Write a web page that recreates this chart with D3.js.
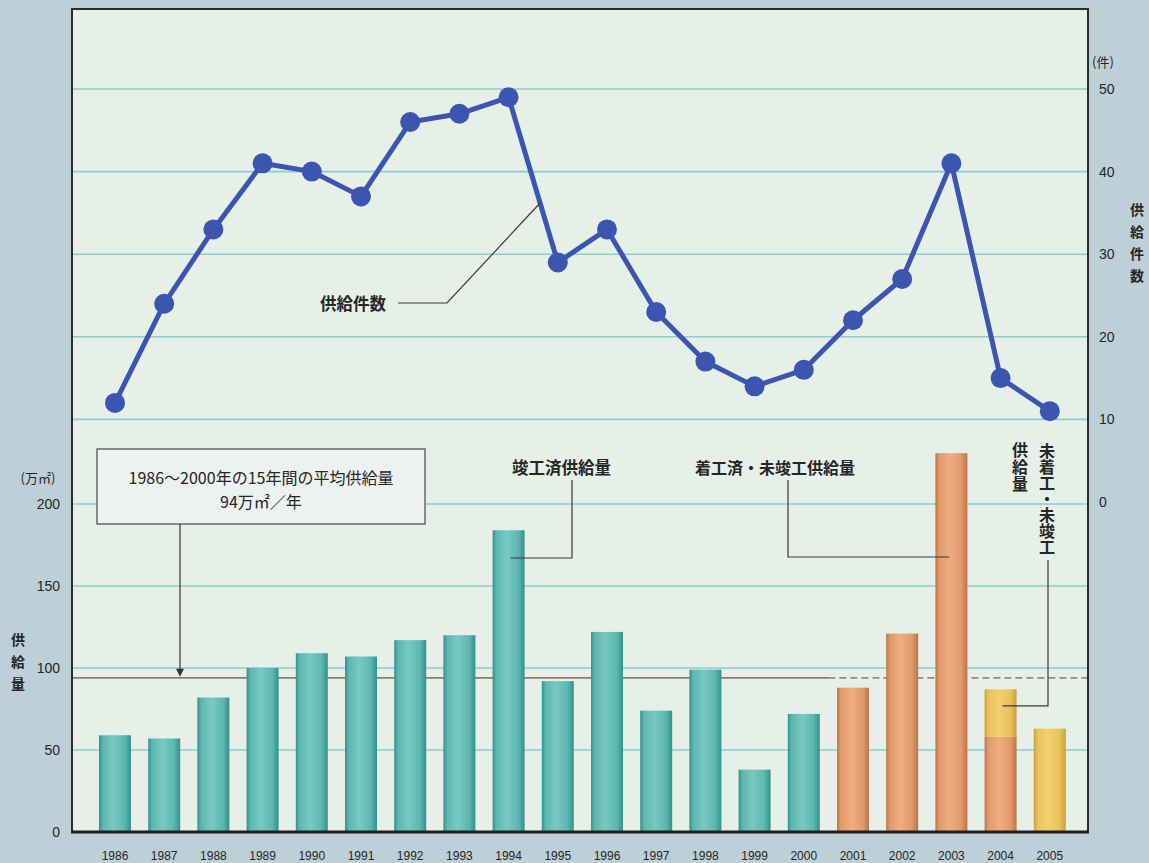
<!DOCTYPE html>
<html lang="ja">
<head>
<meta charset="utf-8">
<script src="https://cdn.jsdelivr.net/npm/d3@7"></script>
<style>
  html, body { margin: 0; padding: 0; background: #bdcfd7; }
  svg { display: block; }
  text { font-family: "Noto Sans CJK JP", "Noto Sans", sans-serif; fill: #262626; }
  .num { font-family: "Liberation Sans", "Noto Sans", sans-serif; }
  .vert { writing-mode: vertical-rl; }
</style>
</head>
<body>
<svg id="chart" width="1149" height="863"></svg>
<script>
// Supply data, 1986–2005
const years = ["1986","1987","1988","1989","1990","1991","1992","1993","1994","1995",
               "1996","1997","1998","1999","2000","2001","2002","2003","2004","2005"];
// 竣工済供給量 (万㎡)
const completed = [59,57,82,100,109,107,117,120,184,92,122,74,99,38,72,0,0,0,0,0];
// 着工済・未竣工供給量 (万㎡)
const underConstruction = [0,0,0,0,0,0,0,0,0,0,0,0,0,0,0,88,121,231,58,0];
// 未着工・未竣工供給量 (万㎡)
const notStarted = [0,0,0,0,0,0,0,0,0,0,0,0,0,0,0,0,0,0,29,63];
// 供給件数 (件)
const supplyCount = [12,24,33,41,40,37,46,47,49,29,33,23,17,14,16,22,27,41,15,11];
// 1986〜2000 average (万㎡/年)
const averageSupply = 94;
const leftTicks = [0,50,100,150,200];
const rightTicks = [0,10,20,30,40,50];

const svg = d3.select("#chart");
const frame = {left: 72, right: 1088, top: 9, bottom: 832};

const x = d3.scaleBand().domain(years).range([90.4, 1074.4]).paddingInner(0.35).paddingOuter(0.175);
const yL = d3.scaleLinear().domain([0, 200]).range([832, 504]);
const yR = d3.scaleLinear().domain([0, 50]).range([502, 89]);

// gradients for the cylinder-like bars
const defs = svg.append("defs");
function barGradient(id, edge, mid, light) {
  const g = defs.append("linearGradient").attr("id", id).attr("x1", "0").attr("x2", "1").attr("y1", "0").attr("y2", "0");
  [[0, edge], [0.12, mid], [0.45, light], [0.8, mid], [1, edge]].forEach(([o, c]) =>
    g.append("stop").attr("offset", o).attr("stop-color", c));
}
barGradient("gTeal", "#34908a", "#5cb8b0", "#78c9c1");
barGradient("gOrange", "#bb7648", "#e29a6a", "#eeae82");
barGradient("gYellow", "#cba03a", "#e9c25a", "#f2d170");

// plot background
svg.append("rect").attr("x", frame.left).attr("y", frame.top)
  .attr("width", frame.right - frame.left).attr("height", frame.bottom - frame.top)
  .attr("fill", "#e6efe8");

// grid lines
const grid = svg.append("g").attr("stroke", "#8ccdd3").attr("stroke-width", 1.6);
rightTicks.filter(d => d > 0).forEach(d =>
  grid.append("line").attr("x1", frame.left).attr("x2", frame.right).attr("y1", yR(d)).attr("y2", yR(d)));
leftTicks.filter(d => d > 0).forEach(d =>
  grid.append("line").attr("x1", frame.left).attr("x2", frame.right).attr("y1", yL(d)).attr("y2", yL(d)));

// average line: solid over 1986–2000, dashed afterwards
const splitX = x("2000") + x.bandwidth() + (x.step() - x.bandwidth()) / 2;
svg.append("line").attr("x1", frame.left).attr("x2", splitX)
  .attr("y1", yL(averageSupply)).attr("y2", yL(averageSupply))
  .attr("stroke", "#8d7d62").attr("stroke-width", 1.6);
svg.append("line").attr("x1", splitX).attr("x2", frame.right)
  .attr("y1", yL(averageSupply)).attr("y2", yL(averageSupply))
  .attr("stroke", "#9a8a70").attr("stroke-width", 1.6).attr("stroke-dasharray", "7,4");

// stacked bars
const table = years.map((yr, i) => ({year: yr, completed: completed[i], underConstruction: underConstruction[i], notStarted: notStarted[i]}));
const stack = d3.stack().keys(["completed", "underConstruction", "notStarted"])(table);
const fills = {completed: "url(#gTeal)", underConstruction: "url(#gOrange)", notStarted: "url(#gYellow)"};
svg.append("g").selectAll("g").data(stack).join("g")
  .attr("fill", d => fills[d.key])
  .selectAll("rect").data(d => d.filter(s => s[1] > s[0])).join("rect")
  .attr("x", d => x(d.data.year))
  .attr("width", x.bandwidth())
  .attr("y", d => yL(d[1]))
  .attr("height", d => yL(d[0]) - yL(d[1]));

// supply count line
const cx = (d, i) => x(years[i]) + x.bandwidth() / 2;
svg.append("path").datum(supplyCount)
  .attr("d", d3.line().x(cx).y(d => yR(d)))
  .attr("fill", "none").attr("stroke", "#3c55b0").attr("stroke-width", 5).attr("stroke-linejoin", "round");
svg.append("g").selectAll("circle").data(supplyCount).join("circle")
  .attr("cx", cx).attr("cy", d => yR(d)).attr("r", 10).attr("fill", "#3c55b0");

// frame
svg.append("path")
  .attr("d", `M${frame.left},${frame.bottom}V${frame.top}H${frame.right}V${frame.bottom}`)
  .attr("fill", "none").attr("stroke", "#2b2b2b").attr("stroke-width", 2);
svg.append("line").attr("x1", frame.left - 1).attr("x2", frame.right + 1)
  .attr("y1", frame.bottom).attr("y2", frame.bottom)
  .attr("stroke", "#1f1f1f").attr("stroke-width", 3);

// left axis labels
svg.append("g").selectAll("text").data(leftTicks).join("text")
  .attr("class", "num")
  .attr("x", 60).attr("y", d => yL(d)).attr("dy", "0.35em")
  .attr("text-anchor", "end").attr("font-size", 14).text(d => d);
svg.append("text").attr("x", 38).attr("y", 478).attr("dy", "0.35em")
  .attr("text-anchor", "middle").attr("font-size", 13).text("(万㎡)");
svg.append("text").attr("class", "vert").attr("x", 18).attr("y", 633)
  .attr("font-size", 14).attr("font-weight", 700).attr("letter-spacing", 8)
  .attr("fill", "#333").text("供給量");

// right axis labels
svg.append("g").selectAll("text").data(rightTicks).join("text")
  .attr("class", "num")
  .attr("x", 1099).attr("y", d => yR(d)).attr("dy", "0.35em")
  .attr("text-anchor", "start").attr("font-size", 14).text(d => d);
svg.append("text").attr("x", 1092).attr("y", 62).attr("dy", "0.35em")
  .attr("font-size", 13).text("(件)");
svg.append("text").attr("class", "vert").attr("x", 1137).attr("y", 203)
  .attr("font-size", 14).attr("font-weight", 700).attr("letter-spacing", 8)
  .attr("fill", "#333").text("供給件数");

// x axis labels
svg.append("g").selectAll("text").data(years).join("text")
  .attr("class", "num")
  .attr("x", d => x(d) + x.bandwidth() / 2).attr("y", 856).attr("dy", "0.35em")
  .attr("text-anchor", "middle").attr("font-size", 12).text(d => d);

// average annotation box with arrow
const box = svg.append("g");
box.append("rect").attr("x", 97).attr("y", 449).attr("width", 328).attr("height", 75)
  .attr("fill", "#edf1ef").attr("stroke", "#555").attr("stroke-width", 1.3);
box.append("text").attr("x", 261).attr("y", 478).attr("dy", "0.35em").attr("text-anchor", "middle")
  .attr("font-size", 16).text("1986～2000年の15年間の平均供給量");
box.append("text").attr("x", 261).attr("y", 502).attr("dy", "0.35em").attr("text-anchor", "middle")
  .attr("font-size", 16).text("94万㎡／年");
const arrowY = yL(averageSupply);
box.append("line").attr("x1", 180).attr("x2", 180).attr("y1", 524).attr("y2", arrowY - 6)
  .attr("stroke", "#333").attr("stroke-width", 1.2);
box.append("path").attr("d", `M176,${arrowY - 9}L184,${arrowY - 9}L180,${arrowY - 1}Z`).attr("fill", "#333");

// leader labels
const leader = (pts) => svg.append("path").attr("d", d3.line()(pts))
  .attr("fill", "none").attr("stroke", "#3a3a3a").attr("stroke-width", 1.2);

// 供給件数 → segment 1994–1995
const i94 = years.indexOf("1994"), i95 = years.indexOf("1995");
const t = 0.64;
const segX = cx(0, i94) + t * (cx(0, i95) - cx(0, i94));
const segY = yR(supplyCount[i94]) + t * (yR(supplyCount[i95]) - yR(supplyCount[i94]));
svg.append("text").attr("x", 320).attr("y", 304).attr("dy", "0.35em")
  .attr("font-size", 16.5).attr("font-weight", 700).text("供給件数");
leader([[398, 303], [447, 303], [segX, segY]]);

// 竣工済供給量 → 1994 bar
svg.append("text").attr("x", 512).attr("y", 468).attr("dy", "0.35em")
  .attr("font-size", 16.5).attr("font-weight", 700).text("竣工済供給量");
leader([[572, 480], [572, 558], [x("1994") + x.bandwidth() / 2 + 2, 558]]);

// 着工済・未竣工供給量 → 2003 bar
svg.append("text").attr("x", 695).attr("y", 468).attr("dy", "0.35em")
  .attr("font-size", 16).attr("font-weight", 700).text("着工済・未竣工供給量");
leader([[788, 480], [788, 557], [x("2003") + x.bandwidth() / 2 - 2, 557]]);

// 未着工・未竣工 / 供給量 (vertical) → 2004 upper part
svg.append("text").attr("class", "vert").attr("x", 1020).attr("y", 442)
  .attr("font-size", 16).attr("font-weight", 700).attr("letter-spacing", 1).text("供給量");
svg.append("text").attr("class", "vert").attr("x", 1047).attr("y", 443)
  .attr("font-size", 16).attr("font-weight", 700).text("未着工・未竣工");
const i04 = years.indexOf("2004");
const y04 = yL(underConstruction[i04] + notStarted[i04] * 0.65);
leader([[1048, 560], [1048, y04], [x("2004") + x.bandwidth() / 2 + 2, y04]]);
</script>
</body>
</html>
